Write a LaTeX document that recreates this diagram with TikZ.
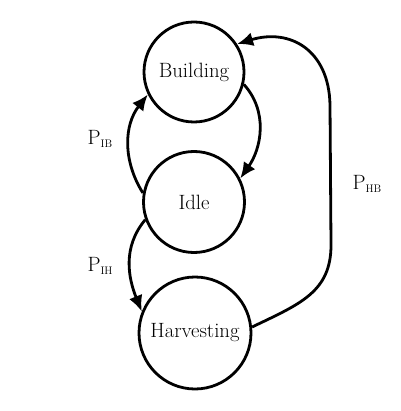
\documentclass[tikz,border=0pt]{standalone}
\usetikzlibrary{arrows.meta}
\begin{document}
\begin{tikzpicture}[x=1pt,y=-1pt,
  state/.style={circle,draw,line width=2.8pt,inner sep=0pt,font=\fontsize{20.7}{24}\selectfont},
  trans/.style={line width=2.8pt,-{Latex[length=16pt,width=14pt]}},
  lab/.style={font=\fontsize{20.7}{24}\selectfont,inner sep=0pt}]
\useasboundingbox (0,0) rectangle (400,411);
\node[state,minimum size=100pt] (B) at (194,72) {Building};
\node[state,minimum size=101pt] (I) at (194,202) {Idle};
\node[state,minimum size=112pt] (H) at (195,333) {Harvesting};
\draw[trans] (B.-14) to[out=-48,in=55] (I.27);
\draw[trans] (I.170) to[out=122,in=-128] (B.-154);
\draw[trans] (I.-160) to[out=-130,in=112] (H.158);
\draw[trans] (H.6) .. controls (300,304) and (331,292) .. (331,245) -- (330,105) .. controls (329,50) and (290,28) .. (B.33);
\node[lab] (pib) at (100,139) {P\raisebox{-0.35ex}{\fontsize{11}{12}\selectfont IB}};
\node[lab] (pih) at (100,266) {P\raisebox{-0.35ex}{\fontsize{11}{12}\selectfont IH}};
\node[lab] (phb) at (367,184) {P\raisebox{-0.35ex}{\fontsize{11}{12}\selectfont HB}};
\end{tikzpicture}
\end{document}
